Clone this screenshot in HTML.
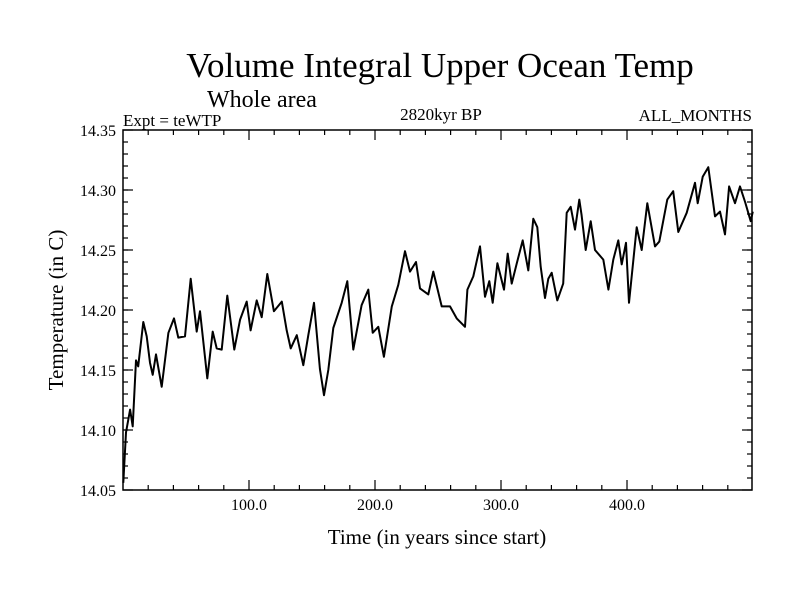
<!DOCTYPE html>
<html><head><meta charset="utf-8"><style>
body{margin:0;background:#fff}
svg{display:block;font-family:"Liberation Serif",serif}
</style></head><body>
<svg id="chart" width="800" height="600" viewBox="0 0 800 600">
<rect width="800" height="600" fill="#fff"/>
<text x="440" y="77" font-size="35" text-anchor="middle">Volume Integral Upper Ocean Temp</text>
<text x="207" y="107" font-size="24">Whole area</text>
<text x="123" y="126" font-size="17">Expt = teWTP</text>
<text x="441" y="120" font-size="17" text-anchor="middle">2820kyr BP</text>
<text x="752" y="121" font-size="17" text-anchor="end">ALL_MONTHS</text>
<text x="437" y="544" font-size="21" text-anchor="middle">Time (in years since start)</text>
<text transform="translate(63,310) rotate(-90)" font-size="21" text-anchor="middle">Temperature (in C)</text>
<g id="axes"></g>
<path id="series" fill="none" stroke="#000" stroke-width="2" stroke-linejoin="round"/>
<rect x="123" y="130" width="629" height="360" fill="none" stroke="#000" stroke-width="1.5"/>
</svg>
<script>
const years=[0.2,2.4,5.6,7.7,10.3,12.1,16.1,18.8,21.4,23.6,26.2,30.7,36.0,40.5,43.9,49.2,53.7,58.5,61.1,66.9,71.2,74.4,78.3,82.8,88.3,92.9,98.2,101.3,106.1,110.1,114.5,119.8,126.0,129.9,133.1,137.9,143.1,147.1,151.6,156.3,159.5,162.9,166.9,173.6,178.0,182.8,189.4,194.7,198.2,202.6,207.1,213.3,218.5,223.8,227.8,232.5,235.7,242.3,246.3,252.9,259.5,264.8,271.4,273.3,278.0,283.3,287.3,290.7,293.4,297.1,302.4,305.3,308.5,312.5,317.2,321.7,325.6,328.8,331.5,334.9,337.5,340.2,344.7,349.4,352.1,355.3,358.7,362.1,364.0,367.2,371.2,374.6,381.2,385.2,389.1,393.1,395.8,399.2,401.6,407.7,411.7,416.1,422.2,425.6,432.0,436.7,440.7,447.4,454.0,456.1,460.1,464.5,469.8,473.8,477.8,481.0,485.7,489.7,493.7,498.2,499.8];
const temps=[14.056,14.098,14.117,14.103,14.158,14.153,14.190,14.178,14.156,14.146,14.163,14.136,14.181,14.193,14.177,14.178,14.226,14.182,14.199,14.143,14.182,14.168,14.167,14.212,14.167,14.192,14.207,14.183,14.208,14.194,14.230,14.199,14.207,14.183,14.168,14.179,14.154,14.179,14.206,14.151,14.129,14.150,14.185,14.206,14.224,14.167,14.204,14.217,14.181,14.186,14.161,14.203,14.221,14.249,14.232,14.240,14.218,14.213,14.232,14.203,14.203,14.193,14.186,14.217,14.228,14.253,14.211,14.224,14.206,14.239,14.217,14.247,14.222,14.239,14.258,14.233,14.276,14.269,14.236,14.210,14.226,14.231,14.208,14.222,14.281,14.286,14.267,14.292,14.279,14.250,14.274,14.250,14.242,14.217,14.242,14.258,14.238,14.256,14.206,14.269,14.250,14.289,14.253,14.257,14.292,14.299,14.265,14.281,14.306,14.289,14.311,14.319,14.278,14.282,14.263,14.303,14.289,14.303,14.290,14.274,14.282];
const xTicks=[100,200,300,400];
const xTickLabels=["100.0","200.0","300.0","400.0"];
const yTicks=[14.05,14.10,14.15,14.20,14.25,14.30,14.35];
const yTickLabels=["14.05","14.10","14.15","14.20","14.25","14.30","14.35"];
const L=123,R=752,T=130,B=490,X0=0,X1=499.2,Y0=14.05,Y1=14.35;
const sx=v=>L+(v-X0)/(X1-X0)*(R-L);
const sy=v=>B-(v-Y0)/(Y1-Y0)*(B-T);
const NS="http://www.w3.org/2000/svg";
const ax=document.getElementById('axes');
function ln(x1,y1,x2,y2,name){const l=document.createElementNS(NS,'line');
l.setAttribute('x1',x1);l.setAttribute('y1',y1);l.setAttribute('x2',x2);l.setAttribute('y2',y2);
l.setAttribute('stroke','#000');l.setAttribute('stroke-width','1.2');


ax.appendChild(l);}
function tx(x,y,s,anchor,name){const t=document.createElementNS(NS,'text');
t.setAttribute('x',x);t.setAttribute('y',y);t.setAttribute('font-size','16');t.setAttribute('text-anchor',anchor);t.textContent=s;


ax.appendChild(t);}
for(let v=20;v<X1;v+=20){const x=sx(v);const major=v%100===0;const len=major?10:5;
ln(x,B,x,B-len,'x-tick');ln(x,T,x,T+len,'x-tick-top');}
for(let v=14.06;v<14.349;v+=0.01){const y=sy(v);ln(L,y,L+5,y,'y-minor-tick');ln(R,y,R-5,y,'y-minor-tick-right');}
xTicks.forEach((v,i)=>tx(sx(v),B+20,xTickLabels[i],'middle','x-tick-label'));
yTicks.forEach((v,i)=>{const y=sy(v);ln(L,y,L+10,y,'y-tick');ln(R,y,R-10,y,'y-tick-right');tx(L-7,y+6,yTickLabels[i],'end','y-tick-label');});
let d='';years.forEach((v,i)=>{d+=(i?'L':'M')+sx(v).toFixed(1)+','+sy(temps[i]).toFixed(1);});
document.getElementById('series').setAttribute('d',d);
</script>
</body></html>
